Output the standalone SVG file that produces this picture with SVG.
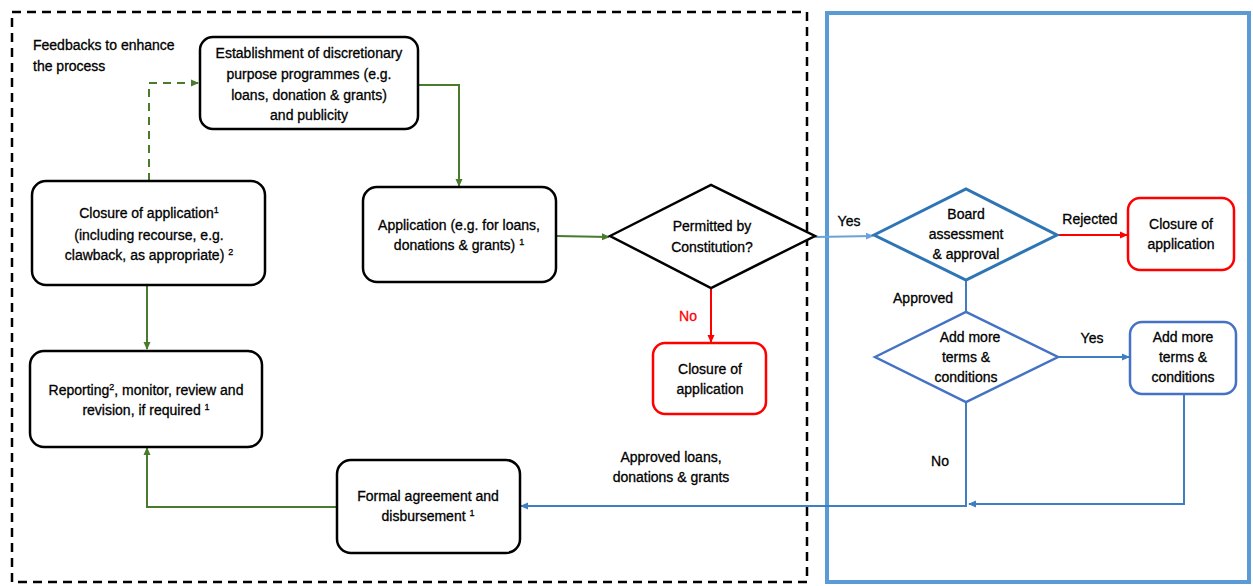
<svg xmlns="http://www.w3.org/2000/svg" width="1253" height="586" viewBox="0 0 1253 586">
<style>
text{font-family:"Liberation Sans",Arial,sans-serif;font-size:14px;fill:#000;stroke:#000;stroke-width:0.3;text-anchor:middle}
.l{text-anchor:start}
.box{fill:#fff;stroke:#000;stroke-width:2.5}
.red{fill:#fff;stroke:#f00;stroke-width:2.5}
.sup{font-size:9px}
.g{stroke:#4a7a2c;stroke-width:2;fill:none}
.b{stroke:#3f7fc1;stroke-width:2;fill:none}
.lb{stroke:#6aa3d9;stroke-width:2;fill:none}
.r{stroke:#f00;stroke-width:2;fill:none}
</style>
<defs>
<marker id="ag" markerWidth="8" markerHeight="8" refX="7" refY="4" orient="auto" markerUnits="userSpaceOnUse"><path d="M0,0.5 L8,4 L0,7.5z" fill="#4a7a2c"/></marker>
<marker id="ab" markerWidth="8" markerHeight="8" refX="7" refY="4" orient="auto" markerUnits="userSpaceOnUse"><path d="M0,0.5 L8,4 L0,7.5z" fill="#3f7fc1"/></marker>
<marker id="alb" markerWidth="8" markerHeight="8" refX="7" refY="4" orient="auto" markerUnits="userSpaceOnUse"><path d="M0,0.5 L8,4 L0,7.5z" fill="#6aa3d9"/></marker>
<marker id="ar" markerWidth="8" markerHeight="8" refX="7" refY="4" orient="auto" markerUnits="userSpaceOnUse"><path d="M0,0.5 L8,4 L0,7.5z" fill="#f00"/></marker>
</defs>
<rect x="12" y="12" width="795" height="570" fill="none" stroke="#000" stroke-width="2.5" stroke-dasharray="9,6"/>
<rect x="827" y="13" width="422" height="569" fill="none" stroke="#5b9bd5" stroke-width="4"/>
<text class="l" x="33" y="50">Feedbacks to enhance</text>
<text class="l" x="33" y="71">the process</text>
<g id="connectors">
<path class="g" d="M149,181 V83 H198" stroke-dasharray="8,6" marker-end="url(#ag)"/>
<path class="g" d="M418,85 H459 V186" marker-end="url(#ag)"/>
<path class="g" d="M556,236 L609,237" marker-end="url(#ag)"/>
<path class="g" d="M147,285 V349" marker-end="url(#ag)"/>
<path class="g" d="M337,507 H147 V448" marker-end="url(#ag)"/>
<path class="lb" d="M815,237 L873,236" marker-end="url(#alb)"/>
<path class="r" d="M711,288 V342" marker-end="url(#ar)"/>
<path class="r" d="M1057,235 H1127" marker-end="url(#ar)"/>
<path class="b" d="M966,280 V312"/>
<path class="b" d="M1058,357 H1129" marker-end="url(#ab)"/>
<path class="b" d="M966,402 V506 H521" marker-end="url(#ab)"/>
<path class="b" d="M1184,394 V504 H969" marker-end="url(#ab)"/>
</g>
<g id="n1"><rect class="box" x="200" y="37" width="218" height="92" rx="13"/>
<text x="309" y="58">Establishment of discretionary</text><text x="309" y="79">purpose programmes (e.g.</text><text x="309" y="100">loans, donation &amp; grants)</text><text x="309" y="120">and publicity</text></g>
<g id="n2"><rect class="box" x="32" y="181" width="233" height="104" rx="14"/>
<text x="149" y="218">Closure of application<tspan class="sup" dy="-5">1</tspan></text><text x="149" y="240">(including recourse, e.g.</text><text x="149" y="260">clawback, as appropriate) <tspan class="sup" dy="-5">2</tspan></text></g>
<g id="n3"><rect class="box" x="30" y="351" width="232" height="96" rx="14"/>
<text x="146" y="395">Reporting<tspan class="sup" dy="-5">2</tspan><tspan dy="5">, monitor, review and</tspan></text><text x="146" y="415">revision, if required <tspan class="sup" dy="-5">1</tspan></text></g>
<g id="n4"><rect class="box" x="363" y="187" width="193" height="95" rx="14"/>
<text x="459" y="230">Application (e.g. for loans,</text><text x="459" y="250">donations &amp; grants) <tspan class="sup" dy="-5">1</tspan></text></g>
<g id="n5"><polygon points="610,236 711,185 815,236 711,288" fill="#fff" stroke="#000" stroke-width="2.5"/>
<text x="712" y="231">Permitted by</text><text x="712" y="252">Constitution?</text></g>
<text x="688" y="321" style="fill:#f00;stroke:#f00">No</text>
<g id="n6"><rect class="red" x="653" y="343" width="113" height="71" rx="12"/>
<text x="710" y="374">Closure of</text><text x="710" y="394">application</text></g>
<text x="849" y="226">Yes</text>
<g id="n7"><polygon points="874,235 966,189 1057,235 966,280" fill="#fff" stroke="#2e75b6" stroke-width="3"/>
<text x="966" y="219">Board</text><text x="966" y="239">assessment</text><text x="966" y="259">&amp; approval</text></g>
<text x="1090" y="224">Rejected</text>
<g id="n8"><rect class="red" x="1128" y="198" width="106" height="72" rx="12"/>
<text x="1181" y="229">Closure of</text><text x="1181" y="249">application</text></g>
<text x="923" y="303">Approved</text>
<g id="n9"><polygon points="875,357 966,312 1058,357 966,402" fill="#fff" stroke="#4472c4" stroke-width="2.5"/>
<text x="970" y="342">Add more</text><text x="966" y="362">terms &amp;</text><text x="966" y="382">conditions</text></g>
<text x="1092" y="343">Yes</text>
<g id="n10"><rect x="1130" y="322" width="106" height="72" rx="12" fill="#fff" stroke="#4472c4" stroke-width="2.5"/>
<text x="1183" y="342">Add more</text><text x="1183" y="362">terms &amp;</text><text x="1183" y="382">conditions</text></g>
<text x="940" y="466">No</text>
<text x="671" y="462">Approved loans,</text>
<text x="671" y="482">donations &amp; grants</text>
<g id="n11"><rect class="box" x="337" y="460" width="183" height="93" rx="14"/>
<text x="428" y="501">Formal agreement and</text><text x="428" y="521">disbursement <tspan class="sup" dy="-5">1</tspan></text></g>
</svg>
